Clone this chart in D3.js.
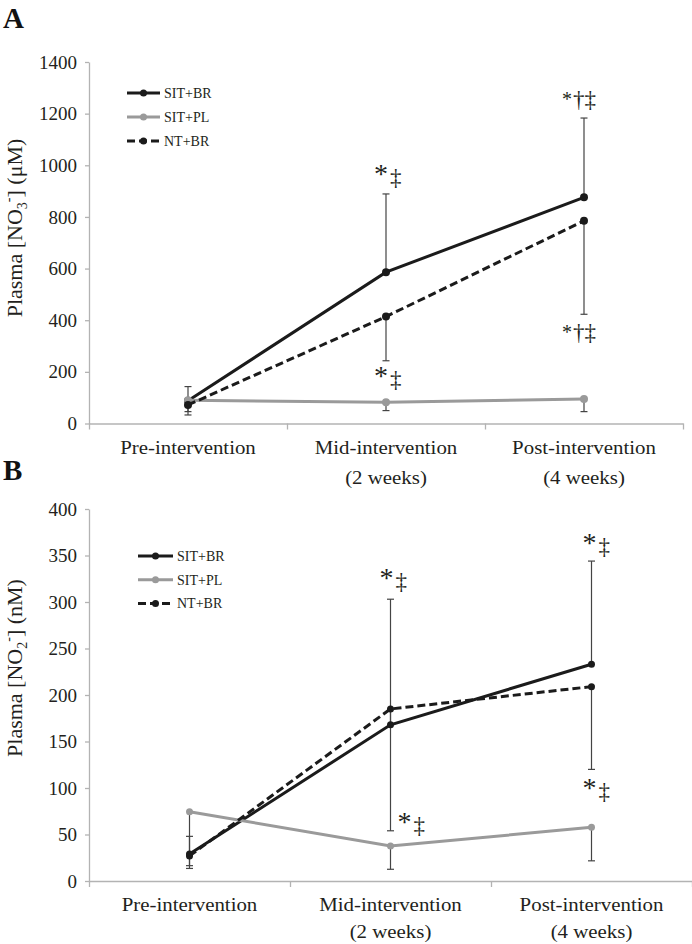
<!DOCTYPE html>
<html><head><meta charset="utf-8">
<script src="https://cdn.jsdelivr.net/npm/d3@7"></script>
<style>body{margin:0;background:#fff}svg{display:block}svg text{font-family:'Liberation Serif','Times New Roman',serif}</style>
</head><body>
<svg id="c" width="692" height="944"></svg>
<script>
const categories = ["Pre-intervention", "Mid-intervention|(2 weeks)", "Post-intervention|(4 weeks)"];
const seriesNames = ["SIT+BR", "SIT+PL", "NT+BR"];
// Panel A: plasma nitrate (µM)
const nitrate_SIT_BR = [88, 586, 876];
const nitrate_SIT_PL = [90, 82, 95];
const nitrate_NT_BR = [72, 414, 785];
const nitrateSD_SIT_BR = [55, 303, 307];   // drawn upward
const nitrateSD_SIT_PL = [44, 32, 49];     // drawn downward
const nitrateSD_NT_BR = [39, 171, 362];    // drawn downward
const nitrateTicks = [0, 200, 400, 600, 800, 1000, 1200, 1400];
// Panel B: plasma nitrite (nM)
const nitrite_SIT_BR = [29, 168, 233];
const nitrite_SIT_PL = [74.5, 37.6, 57.7];
const nitrite_NT_BR = [27, 185, 209];
const nitriteSD_SIT_BR = [19, 135, 111];
const nitriteSD_SIT_PL = [58, 25, 36];
const nitriteSD_NT_BR = [13.5, 131, 89];
const nitriteTicks = [0, 50, 100, 150, 200, 250, 300, 350, 400];
// significance annotations: [category index, value at text baseline, symbols]
const nitrateMarks = [[1, 932, "*‡"], [1, 149, "*‡"], [2, 1231, "*†‡"], [2, 328, "*†‡"]];
const nitriteMarks = [[1, 316, "*‡"], [1, 54, "*‡"], [2, 354, "*‡"], [2, 90, "*‡"]];

const svg = d3.select("#c");
const FONT = "'Liberation Serif','Times New Roman',serif";
const BLACK = "#1b1b1b", GREY = "#9a9a9a", AXIS = "#b3b3b3", EB = "#444";
const SX = 1.16; // horizontal stretch of the original figure's text

function panel(cfg) {
  const g = svg.append("g");
  const x = d3.scaleBand().domain(categories).range(cfg.xRange);
  const xb = d3.scaleLinear().domain([0, 3]).range(cfg.xRange);
  const y = d3.scaleLinear().domain([0, cfg.max]).range(cfg.yRange);

  // y axis
  const ya = g.append("g").attr("transform", `translate(${cfg.xRange[0]},0)`)
    .call(d3.axisLeft(y).tickValues(cfg.ticks).tickFormat(d3.format("d")).tickSize(4).tickSizeOuter(0).tickPadding(8));
  ya.attr("font-family", null);
  ya.select(".domain").attr("stroke", AXIS).attr("stroke-width", 1.3);
  ya.selectAll(".tick line").attr("stroke", AXIS).attr("stroke-width", 1.3);
  ya.selectAll(".tick text").style("font-family", FONT).attr("font-size", 19).attr("fill", "#231f20");

  // x axis
  const xa = g.append("g").attr("transform", `translate(0,${cfg.yRange[0]})`)
    .call(d3.axisBottom(xb).tickValues([0, 1, 2, 3]).tickSize(6).tickSizeOuter(0).tickFormat(""));
  xa.select(".domain").attr("stroke", AXIS).attr("stroke-width", 1.3);
  xa.selectAll(".tick line").attr("stroke", AXIS).attr("stroke-width", 1.3);

  // category labels
  const cl = g.append("g").selectAll("text").data(categories).join("text")
    .attr("transform", d => `translate(${x(d) + x.bandwidth() / 2},${cfg.yRange[0] + 30}) scale(${SX},1)`)
    .attr("text-anchor", "middle").style("font-family", FONT).attr("font-size", 18).attr("fill", "#231f20");
  cl.each(function (d) {
    const parts = d.split("|");
    d3.select(this).selectAll("tspan").data(parts).join("tspan")
      .attr("x", 0)
      .attr("dy", (p, i) => i === 0 ? 0 : cfg.lineH)
      .text(p => p);
  });

  // y title
  const tx = 22, ty = cfg.titleY;
  const t = g.append("text").attr("transform", `translate(${tx},${ty}) rotate(-90)`)
    .attr("text-anchor", "middle").style("font-family", FONT).attr("font-size", 22).attr("fill", "#231f20");
  t.append("tspan").text("Plasma [NO");
  t.append("tspan").attr("font-size", 14).attr("dy", 5).text(cfg.sub);
  t.append("tspan").attr("font-size", 14).attr("dy", -14).text("-");
  t.append("tspan").attr("dy", 9).text("] (" + cfg.unit + ")");

  // panel letter
  g.append("text").attr("x", 3).attr("y", cfg.letterY).style("font-family", FONT)
    .attr("font-weight", "bold").attr("font-size", 29).attr("fill", "#111").text(cfg.letter);

  const cx = i => x(categories[i]) + x.bandwidth() / 2;

  // error bars
  const eb = g.append("g");
  cfg.series.forEach(s => {
    s.vals.forEach((v, i) => {
      const end = v + s.dir * s.sd[i];
      eb.append("line").attr("x1", cx(i)).attr("x2", cx(i)).attr("y1", y(v)).attr("y2", y(end))
        .attr("stroke", EB).attr("stroke-width", 1.2);
      eb.append("line").attr("x1", cx(i) - 3.5).attr("x2", cx(i) + 3.5).attr("y1", y(end)).attr("y2", y(end))
        .attr("stroke", EB).attr("stroke-width", 1.2);
    });
  });

  // lines
  const line = d3.line().x((d, i) => cx(i)).y(d => y(d));
  cfg.series.forEach(s => {
    g.append("path").datum(s.vals).attr("d", line).attr("fill", "none")
      .attr("stroke", s.color).attr("stroke-width", 3)
      .attr("stroke-dasharray", s.dash ? "8,4" : null);
    g.append("g").selectAll("circle").data(s.vals).join("circle")
      .attr("cx", (d, i) => cx(i)).attr("cy", d => y(d)).attr("r", cfg.r).attr("fill", s.color);
  });

  // legend
  const lg = g.append("g");
  cfg.series.forEach((s, k) => {
    const ly = cfg.leg.y + k * cfg.leg.dy;
    lg.append("line").attr("x1", cfg.leg.x0).attr("x2", cfg.leg.x1).attr("y1", ly).attr("y2", ly)
      .attr("stroke", s.color).attr("stroke-width", 3).attr("stroke-dasharray", s.dash ? "8,4" : null);
    lg.append("circle").attr("cx", (cfg.leg.x0 + cfg.leg.x1) / 2).attr("cy", ly).attr("r", 3.5).attr("fill", s.color);
    lg.append("text").attr("x", cfg.leg.x1 + 4).attr("y", ly + 5).style("font-family", FONT)
      .attr("font-size", 14).attr("fill", "#231f20").text(s.name);
  });

  // significance marks
  cfg.marks.forEach(([ci, v, sym], k) => {
    const txt = g.append("text").attr("x", cx(ci) + cfg.markDx[k]).attr("y", y(v))
      .style("font-family", FONT).attr("fill", "#231f20");
    const three = sym.length === 3;
    txt.append("tspan").attr("font-size", three ? 20 : 28).text("*");
    txt.append("tspan").attr("font-size", 23).attr("dx", three ? 1 : 2).attr("dy", three ? 1 : 2).text(sym.slice(1));
  });
}

panel({
  letter: "A", letterY: 28, xRange: [89, 683], yRange: [423.5, 62], max: 1400, ticks: nitrateTicks,
  lineH: 31, titleY: 228, sub: "3", unit: "μM", r: 4,
  leg: {x0: 127, x1: 160, y: 93, dy: 24},
  marks: nitrateMarks, markDx: [-12, -12, -22, -22],
  series: [
    {name: seriesNames[0], vals: nitrate_SIT_BR, sd: nitrateSD_SIT_BR, dir: 1, color: BLACK, dash: false},
    {name: seriesNames[1], vals: nitrate_SIT_PL, sd: nitrateSD_SIT_PL, dir: -1, color: GREY, dash: false},
    {name: seriesNames[2], vals: nitrate_NT_BR, sd: nitrateSD_NT_BR, dir: -1, color: BLACK, dash: true}
  ]
});
panel({
  letter: "B", letterY: 480, xRange: [89, 692], yRange: [881, 509], max: 400, ticks: nitriteTicks,
  lineH: 27, titleY: 668, sub: "2", unit: "nM", r: 3.5,
  leg: {x0: 138, x1: 173, y: 556, dy: 23.7},
  marks: nitriteMarks, markDx: [-11, 7, -9, -9],
  series: [
    {name: seriesNames[0], vals: nitrite_SIT_BR, sd: nitriteSD_SIT_BR, dir: 1, color: BLACK, dash: false},
    {name: seriesNames[1], vals: nitrite_SIT_PL, sd: nitriteSD_SIT_PL, dir: -1, color: GREY, dash: false},
    {name: seriesNames[2], vals: nitrite_NT_BR, sd: nitriteSD_NT_BR, dir: -1, color: BLACK, dash: true}
  ]
});
</script>
</body></html>
